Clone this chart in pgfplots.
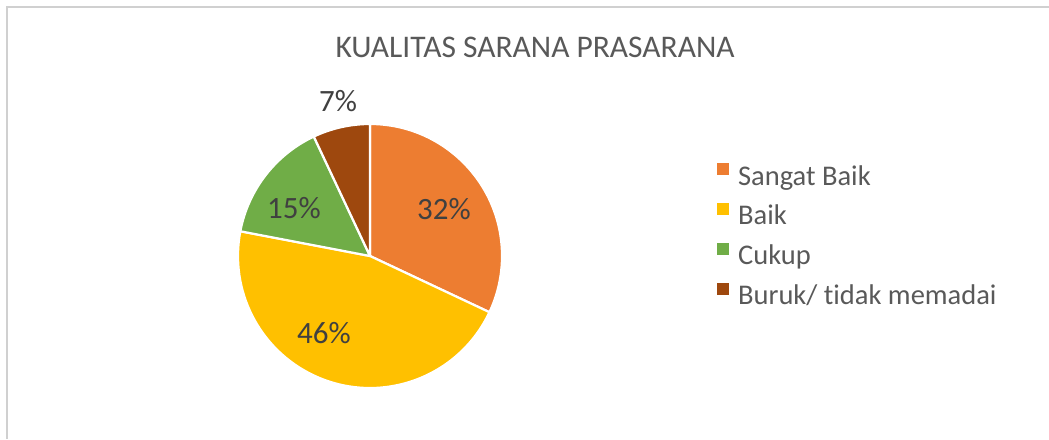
\documentclass[border=0pt]{standalone}
\usepackage{pgfplots}
\pgfplotsset{compat=1.18}
\usepackage{fontspec}
\setmainfont{Carlito}[Ligatures={NoCommon}]
\definecolor{cOrange}{HTML}{ED7D31}
\definecolor{cYellow}{HTML}{FFC000}
\definecolor{cGreen}{HTML}{70AD47}
\definecolor{cBrown}{HTML}{9E480E}
\definecolor{txt}{HTML}{595959}
\definecolor{lbl}{HTML}{404040}
\definecolor{frame}{HTML}{D0D0D0}
% data (percent), clockwise from 12 o'clock
\def\vA{32}\def\vB{46}\def\vC{15}\def\vD{7}
\pgfmathsetmacro{\angA}{90}
\pgfmathsetmacro{\angB}{\angA-3.6*\vA}
\pgfmathsetmacro{\angC}{\angB-3.6*\vB}
\pgfmathsetmacro{\angD}{\angC-3.6*\vC}
\pgfmathsetmacro{\angE}{\angD-3.6*\vD}
\newcommand{\slice}[3]{%
  \fill[#3, draw=white, line width=2.2pt, line join=round]
    (axis cs:370,183) -- ++(#1:132pt) arc[start angle=#1, end angle=#2, radius=132pt] -- cycle;}
\begin{document}
\begin{tikzpicture}
\begin{axis}[
  width=1049pt, height=439pt, scale only axis,
  xmin=0, xmax=1049, ymin=0, ymax=439,
  hide axis, clip=false,
  legend style={at={(axis cs:714,278)}, anchor=north west, draw=none, fill=none,
    font=\fontsize{28.5}{32}\selectfont\color{txt},
    cells={anchor=west}, row sep=11.9pt, column sep=9.5pt,
    nodes={inner sep=0pt, text height=20pt, text depth=6pt}},
  legend image code/.code={\fill[#1] (0pt,3.7pt) rectangle (11pt,14.7pt);},
]
% title
\node[font=\fontsize{31.5}{36}\selectfont, text=txt] at (axis cs:535,392) {KUALITAS SARANA PRASARANA};
% pie
\slice{\angA}{\angB}{cOrange}
\slice{\angB}{\angC}{cYellow}
\slice{\angC}{\angD}{cGreen}
\slice{\angD}{\angE}{cBrown}
% data labels
\node[font=\fontsize{31}{36}\selectfont, text=lbl] at (axis cs:444,230) {32\%};
\node[font=\fontsize{31}{36}\selectfont, text=lbl] at (axis cs:324,106) {46\%};
\node[font=\fontsize{31}{36}\selectfont, text=lbl] at (axis cs:294,231) {15\%};
\node[font=\fontsize{31}{36}\selectfont, text=lbl] at (axis cs:338,338) {7\%};
\addlegendimage{cOrange}\addlegendentry{Sangat Baik}
\addlegendimage{cYellow}\addlegendentry{Baik}
\addlegendimage{cGreen}\addlegendentry{Cukup}
\addlegendimage{cBrown}\addlegendentry{Buruk/ tidak memadai}
\end{axis}
% frame (left and top edges visible)
\fill[frame] ([xshift=6pt]current axis.south west) rectangle ([xshift=8pt,yshift=-8pt]current axis.north west);
\fill[frame] ([xshift=6pt,yshift=-6pt]current axis.north west) rectangle ([yshift=-8pt]current axis.north east);
\pgfresetboundingbox
\path (current axis.south west) rectangle (current axis.north east);
\end{tikzpicture}
\end{document}
